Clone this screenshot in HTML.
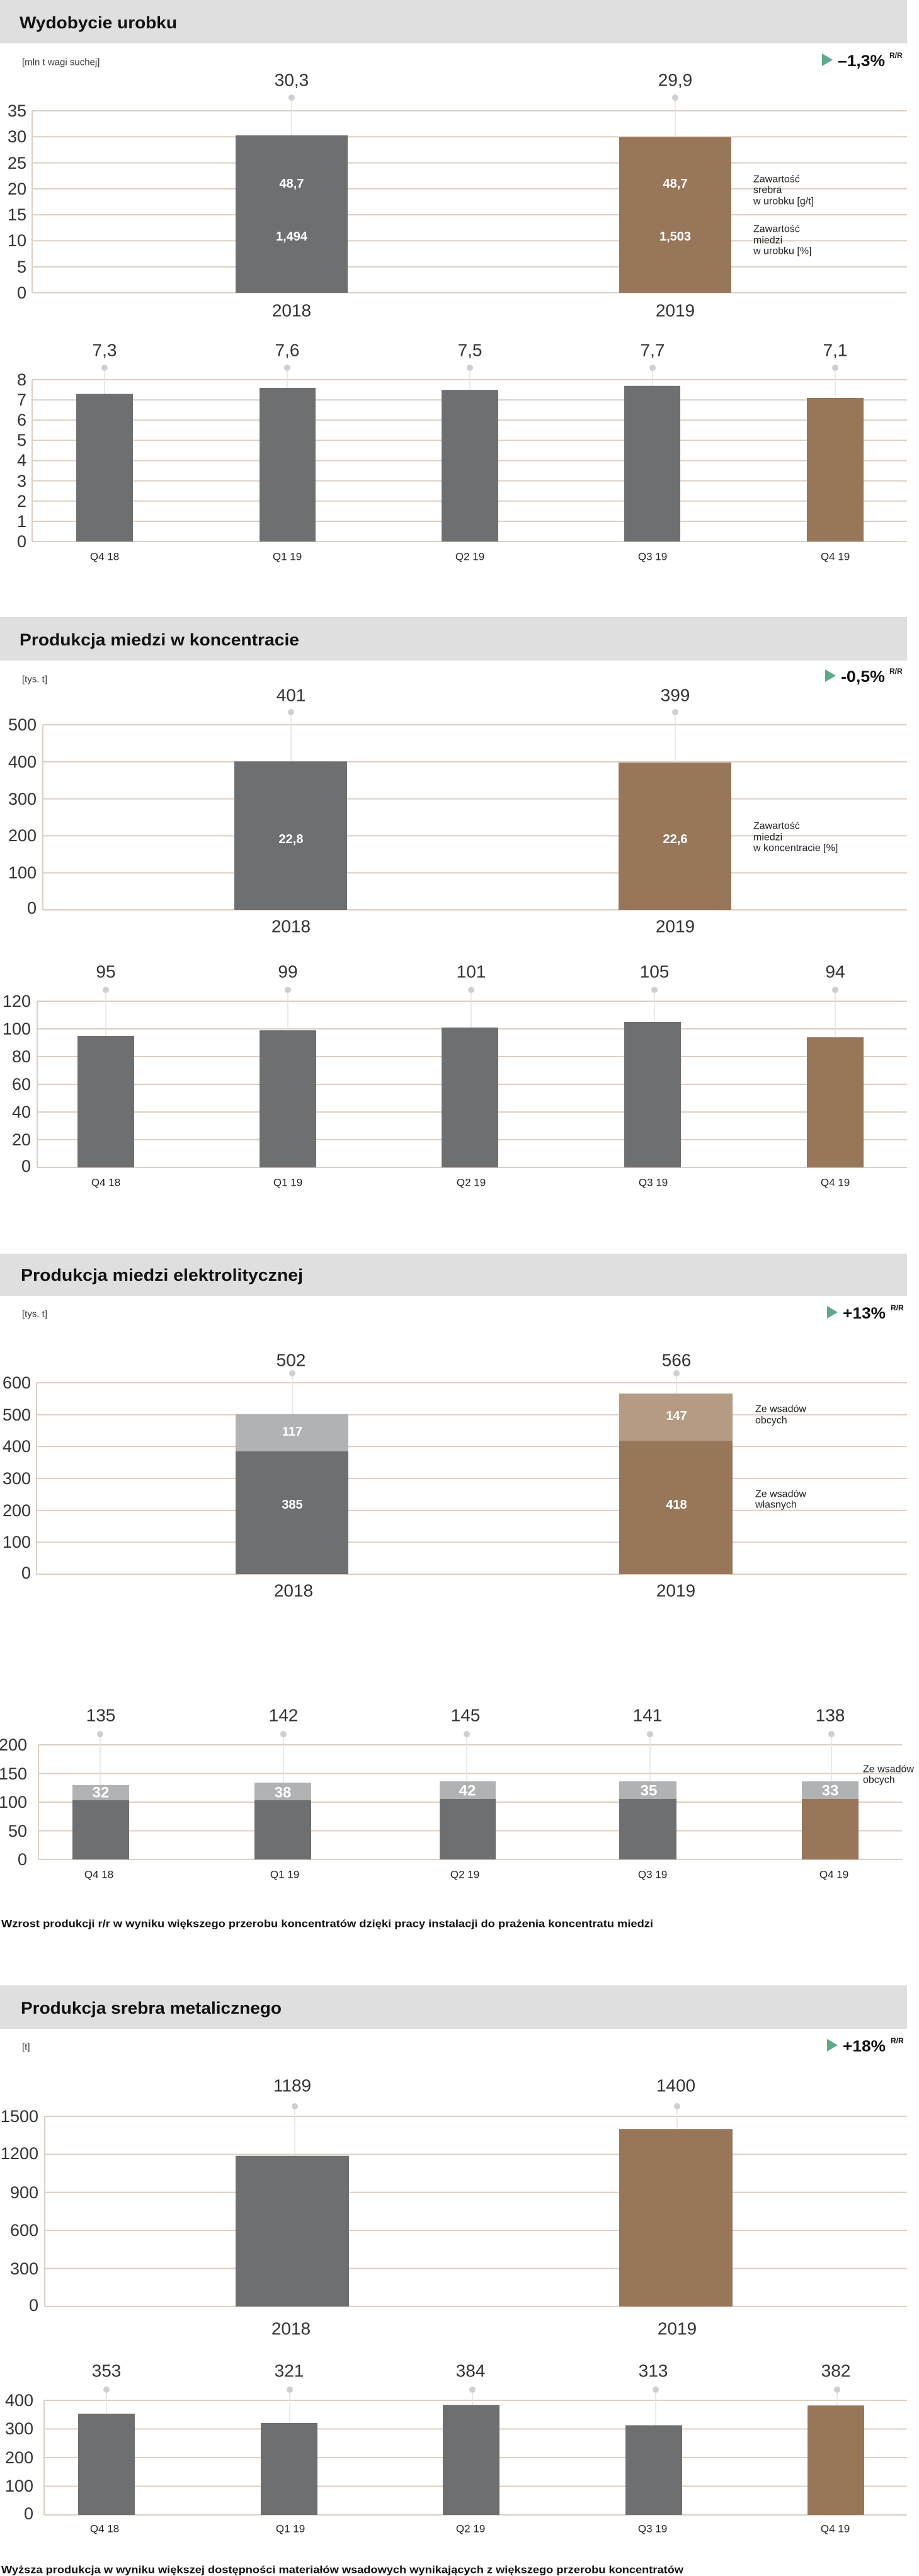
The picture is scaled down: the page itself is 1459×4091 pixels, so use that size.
<!DOCTYPE html>
<html><head><meta charset="utf-8"><style>
html,body{margin:0;padding:0;background:#fff;}
svg{display:block;}
text{font-family:"Liberation Sans Narrow","Liberation Sans",sans-serif;}
.t{font-weight:bold;font-size:27px;fill:#111;}
.u{font-size:15px;fill:#333;}
.ax{font-size:27px;fill:#333;text-anchor:end;}
.v{font-size:28px;fill:#333;text-anchor:middle;}
.q{font-size:17px;fill:#222;text-anchor:middle;}
.yr{font-size:28px;fill:#333;text-anchor:middle;}
.bl{font-size:20px;font-weight:bold;fill:#fff;text-anchor:middle;}
.sl{font-size:24px;font-weight:bold;fill:#fff;text-anchor:middle;}
.an{font-size:16px;fill:#222;}
.pc{font-size:25px;font-weight:bold;fill:#111;}
.rr{font-size:12px;font-weight:bold;fill:#111;}
.nt{font-size:17px;font-weight:bold;fill:#111;}
.g{stroke:#dccfc2;stroke-width:2;}
.c{stroke:#e2e2e2;stroke-width:1.5;}
.gr{fill:#6e6f71;}
.br{fill:#98765a;}
.dot{fill:#cfcfcf;}
</style></head><body>
<svg width="1459" height="4091" viewBox="0 0 1459 4091" xmlns="http://www.w3.org/2000/svg" dominant-baseline="central">

<!-- SECTION 1 -->
<rect x="0" y="0" width="1440" height="69" fill="#dedfde"/>
<text class="t" x="31" y="36" textLength="250" lengthAdjust="spacingAndGlyphs">Wydobycie urobku</text>
<text class="u" x="35" y="99">[mln t wagi suchej]</text>
<polygon points="1305,85 1322,95 1305,105" fill="#5fa98a"/>
<text class="pc" x="1330" y="97" textLength="75" lengthAdjust="spacingAndGlyphs">–1,3%</text>
<text class="rr" x="1412" y="88">R/R</text>

<g>
<line class="g" x1="51" y1="176" x2="51" y2="465"/>
<line class="g" x1="51" y1="176" x2="1440" y2="176"/>
<line class="g" x1="51" y1="217.3" x2="1440" y2="217.3"/>
<line class="g" x1="51" y1="258.6" x2="1440" y2="258.6"/>
<line class="g" x1="51" y1="299.9" x2="1440" y2="299.9"/>
<line class="g" x1="51" y1="341.1" x2="1440" y2="341.1"/>
<line class="g" x1="51" y1="382.4" x2="1440" y2="382.4"/>
<line class="g" x1="51" y1="423.7" x2="1440" y2="423.7"/>
<line class="g" x1="51" y1="465" x2="1440" y2="465"/>
<text class="ax" x="42" y="176">35</text>
<text class="ax" x="42" y="217">30</text>
<text class="ax" x="42" y="259">25</text>
<text class="ax" x="42" y="300">20</text>
<text class="ax" x="42" y="341">15</text>
<text class="ax" x="42" y="382">10</text>
<text class="ax" x="42" y="424">5</text>
<text class="ax" x="42" y="465">0</text>
<line class="c" x1="463" y1="155" x2="463" y2="215"/>
<line class="c" x1="1072" y1="155" x2="1072" y2="218"/>
<circle class="dot" cx="463" cy="155" r="5"/>
<circle class="dot" cx="1072" cy="155" r="5"/>
<rect class="gr" x="374" y="215" width="178" height="250"/>
<rect class="br" x="983" y="218" width="178" height="247"/>
<text class="v" x="463" y="127">30,3</text>
<text class="v" x="1072" y="127">29,9</text>
<text class="bl" x="463" y="292">48,7</text>
<text class="bl" x="463" y="376">1,494</text>
<text class="bl" x="1072" y="292">48,7</text>
<text class="bl" x="1072" y="376">1,503</text>
<text class="an" x="1196" y="285">Zawartość</text>
<text class="an" x="1196" y="302">srebra</text>
<text class="an" x="1196" y="320">w urobku [g/t]</text>
<text class="an" x="1196" y="364">Zawartość</text>
<text class="an" x="1196" y="382">miedzi</text>
<text class="an" x="1196" y="399">w urobku [%]</text>
<text class="yr" x="463" y="493">2018</text>
<text class="yr" x="1072" y="493">2019</text>
</g>

<g>
<line class="g" x1="51" y1="603" x2="51" y2="860"/>
<line class="g" x1="51" y1="603" x2="1440" y2="603"/>
<line class="g" x1="51" y1="635.1" x2="1440" y2="635.1"/>
<line class="g" x1="51" y1="667.3" x2="1440" y2="667.3"/>
<line class="g" x1="51" y1="699.4" x2="1440" y2="699.4"/>
<line class="g" x1="51" y1="731.5" x2="1440" y2="731.5"/>
<line class="g" x1="51" y1="763.6" x2="1440" y2="763.6"/>
<line class="g" x1="51" y1="795.8" x2="1440" y2="795.8"/>
<line class="g" x1="51" y1="827.9" x2="1440" y2="827.9"/>
<line class="g" x1="51" y1="860" x2="1440" y2="860"/>
<text class="ax" x="42" y="603">8</text>
<text class="ax" x="42" y="635">7</text>
<text class="ax" x="42" y="667">6</text>
<text class="ax" x="42" y="699">5</text>
<text class="ax" x="42" y="731">4</text>
<text class="ax" x="42" y="764">3</text>
<text class="ax" x="42" y="796">2</text>
<text class="ax" x="42" y="828">1</text>
<text class="ax" x="42" y="860">0</text>
<line class="c" x1="166" y1="584" x2="166" y2="626"/>
<line class="c" x1="456" y1="584" x2="456" y2="616"/>
<line class="c" x1="746" y1="584" x2="746" y2="619"/>
<line class="c" x1="1036" y1="584" x2="1036" y2="613"/>
<line class="c" x1="1326" y1="584" x2="1326" y2="632"/>
<circle class="dot" cx="166" cy="584" r="5"/>
<circle class="dot" cx="456" cy="584" r="5"/>
<circle class="dot" cx="746" cy="584" r="5"/>
<circle class="dot" cx="1036" cy="584" r="5"/>
<circle class="dot" cx="1326" cy="584" r="5"/>
<rect class="gr" x="121" y="625.6" width="90" height="234.4"/>
<rect class="gr" x="412" y="616" width="89" height="244"/>
<rect class="gr" x="701" y="619.2" width="90" height="240.8"/>
<rect class="gr" x="991" y="612.8" width="89" height="247.2"/>
<rect class="br" x="1281" y="632" width="90" height="228"/>
<text class="v" x="166" y="556">7,3</text>
<text class="v" x="456" y="556">7,6</text>
<text class="v" x="746" y="556">7,5</text>
<text class="v" x="1036" y="556">7,7</text>
<text class="v" x="1326" y="556">7,1</text>
<text class="q" x="166" y="884">Q4 18</text>
<text class="q" x="456" y="884">Q1 19</text>
<text class="q" x="746" y="884">Q2 19</text>
<text class="q" x="1036" y="884">Q3 19</text>
<text class="q" x="1326" y="884">Q4 19</text>
</g>

<!-- SECTION 2 -->
<rect x="0" y="980" width="1440" height="69" fill="#dedfde"/>
<text class="t" x="31" y="1016" textLength="444" lengthAdjust="spacingAndGlyphs">Produkcja miedzi w koncentracie</text>
<text class="u" x="35" y="1079">[tys. t]</text>
<polygon points="1310,1063 1327,1073 1310,1083" fill="#5fa98a"/>
<text class="pc" x="1335" y="1075" textLength="70" lengthAdjust="spacingAndGlyphs">-0,5%</text>
<text class="rr" x="1412" y="1066">R/R</text>

<g>
<line class="g" x1="68" y1="1151" x2="68" y2="1445"/>
<line class="g" x1="68" y1="1151" x2="1440" y2="1151"/>
<line class="g" x1="68" y1="1209.8" x2="1440" y2="1209.8"/>
<line class="g" x1="68" y1="1268.6" x2="1440" y2="1268.6"/>
<line class="g" x1="68" y1="1327.4" x2="1440" y2="1327.4"/>
<line class="g" x1="68" y1="1386.2" x2="1440" y2="1386.2"/>
<line class="g" x1="68" y1="1445" x2="1440" y2="1445"/>
<text class="ax" x="58" y="1151">500</text>
<text class="ax" x="58" y="1210">400</text>
<text class="ax" x="58" y="1269">300</text>
<text class="ax" x="58" y="1327">200</text>
<text class="ax" x="58" y="1386">100</text>
<text class="ax" x="58" y="1442">0</text>
<line class="c" x1="462" y1="1131" x2="462" y2="1209"/>
<line class="c" x1="1072" y1="1131" x2="1072" y2="1210"/>
<circle class="dot" cx="462" cy="1131" r="5"/>
<circle class="dot" cx="1072" cy="1131" r="5"/>
<rect class="gr" x="372" y="1209.2" width="179" height="235.8"/>
<rect class="br" x="982" y="1211" width="179" height="234"/>
<text class="v" x="462" y="1104">401</text>
<text class="v" x="1072" y="1104">399</text>
<text class="bl" x="462" y="1333">22,8</text>
<text class="bl" x="1072" y="1333">22,6</text>
<text class="an" x="1196" y="1312">Zawartość</text>
<text class="an" x="1196" y="1330">miedzi</text>
<text class="an" x="1196" y="1347">w koncentracie [%]</text>
<text class="yr" x="462" y="1471">2018</text>
<text class="yr" x="1072" y="1471">2019</text>
</g>

<g>
<line class="g" x1="59" y1="1590" x2="59" y2="1854"/>
<line class="g" x1="59" y1="1590" x2="1440" y2="1590"/>
<line class="g" x1="59" y1="1634" x2="1440" y2="1634"/>
<line class="g" x1="59" y1="1678" x2="1440" y2="1678"/>
<line class="g" x1="59" y1="1722" x2="1440" y2="1722"/>
<line class="g" x1="59" y1="1766" x2="1440" y2="1766"/>
<line class="g" x1="59" y1="1810" x2="1440" y2="1810"/>
<line class="g" x1="59" y1="1854" x2="1440" y2="1854"/>
<text class="ax" x="49" y="1590">120</text>
<text class="ax" x="49" y="1634">100</text>
<text class="ax" x="49" y="1678">80</text>
<text class="ax" x="49" y="1722">60</text>
<text class="ax" x="49" y="1766">40</text>
<text class="ax" x="49" y="1810">20</text>
<text class="ax" x="49" y="1852">0</text>
<line class="c" x1="168" y1="1572" x2="168" y2="1645"/>
<line class="c" x1="457" y1="1572" x2="457" y2="1636"/>
<line class="c" x1="748" y1="1572" x2="748" y2="1632"/>
<line class="c" x1="1039" y1="1572" x2="1039" y2="1623"/>
<line class="c" x1="1326" y1="1572" x2="1326" y2="1647"/>
<circle class="dot" cx="168" cy="1572" r="5"/>
<circle class="dot" cx="457" cy="1572" r="5"/>
<circle class="dot" cx="748" cy="1572" r="5"/>
<circle class="dot" cx="1039" cy="1572" r="5"/>
<circle class="dot" cx="1326" cy="1572" r="5"/>
<rect class="gr" x="123" y="1645" width="90" height="209"/>
<rect class="gr" x="412" y="1636.2" width="90" height="217.8"/>
<rect class="gr" x="701" y="1631.8" width="90" height="222.2"/>
<rect class="gr" x="991" y="1623" width="90" height="231"/>
<rect class="br" x="1281" y="1647.2" width="90" height="206.8"/>
<text class="v" x="168" y="1543">95</text>
<text class="v" x="457" y="1543">99</text>
<text class="v" x="748" y="1543">101</text>
<text class="v" x="1039" y="1543">105</text>
<text class="v" x="1326" y="1543">94</text>
<text class="q" x="168" y="1878">Q4 18</text>
<text class="q" x="457" y="1878">Q1 19</text>
<text class="q" x="748" y="1878">Q2 19</text>
<text class="q" x="1037" y="1878">Q3 19</text>
<text class="q" x="1326" y="1878">Q4 19</text>
</g>

<!-- SECTION 3 -->
<rect x="0" y="1991" width="1440" height="67" fill="#dedfde"/>
<text class="t" x="33" y="2025" textLength="448" lengthAdjust="spacingAndGlyphs">Produkcja miedzi elektrolitycznej</text>
<text class="u" x="35" y="2087">[tys. t]</text>
<polygon points="1313,2074 1330,2084 1313,2094" fill="#5fa98a"/>
<text class="pc" x="1338" y="2086" textLength="68" lengthAdjust="spacingAndGlyphs">+13%</text>
<text class="rr" x="1414" y="2077">R/R</text>

<g>
<line class="g" x1="58" y1="2196" x2="58" y2="2500"/>
<line class="g" x1="58" y1="2196" x2="1440" y2="2196"/>
<line class="g" x1="58" y1="2246.7" x2="1440" y2="2246.7"/>
<line class="g" x1="58" y1="2297.3" x2="1440" y2="2297.3"/>
<line class="g" x1="58" y1="2348" x2="1440" y2="2348"/>
<line class="g" x1="58" y1="2398.7" x2="1440" y2="2398.7"/>
<line class="g" x1="58" y1="2449.3" x2="1440" y2="2449.3"/>
<line class="g" x1="58" y1="2500" x2="1440" y2="2500"/>
<text class="ax" x="49" y="2196">600</text>
<text class="ax" x="49" y="2247">500</text>
<text class="ax" x="49" y="2297">400</text>
<text class="ax" x="49" y="2348">300</text>
<text class="ax" x="49" y="2399">200</text>
<text class="ax" x="49" y="2449">100</text>
<text class="ax" x="49" y="2498">0</text>
<line class="c" x1="464" y1="2181" x2="464" y2="2246"/>
<line class="c" x1="1074" y1="2181" x2="1074" y2="2214"/>
<circle class="dot" cx="464" cy="2181" r="5"/>
<circle class="dot" cx="1074" cy="2181" r="5"/>
<rect x="374" y="2245.6" width="179" height="59.3" fill="#b1b2b3"/>
<rect class="gr" x="374" y="2304.9" width="179" height="195.1"/>
<rect x="983" y="2213.2" width="180" height="75" fill="#b59b82"/>
<rect class="br" x="983" y="2288.2" width="180" height="211.8"/>
<text class="v" x="462" y="2160">502</text>
<text class="v" x="1074" y="2160">566</text>
<text class="bl" x="464" y="2274">117</text>
<text class="bl" x="464" y="2390">385</text>
<text class="bl" x="1074" y="2249">147</text>
<text class="bl" x="1074" y="2390">418</text>
<text class="an" x="1199" y="2238">Ze wsadów</text>
<text class="an" x="1199" y="2256">obcych</text>
<text class="an" x="1199" y="2373">Ze wsadów</text>
<text class="an" x="1199" y="2390">własnych</text>
<text class="yr" x="466" y="2526">2018</text>
<text class="yr" x="1073" y="2526">2019</text>
</g>

<g>
<line class="g" x1="61" y1="2771" x2="61" y2="2953"/>
<line class="g" x1="61" y1="2771" x2="1432" y2="2771"/>
<line class="g" x1="61" y1="2816.5" x2="1432" y2="2816.5"/>
<line class="g" x1="61" y1="2862" x2="1432" y2="2862"/>
<line class="g" x1="61" y1="2907.5" x2="1432" y2="2907.5"/>
<line class="g" x1="61" y1="2953" x2="1432" y2="2953"/>
<text class="ax" x="43" y="2771">200</text>
<text class="ax" x="43" y="2817">150</text>
<text class="ax" x="43" y="2862">100</text>
<text class="ax" x="43" y="2908">50</text>
<text class="ax" x="43" y="2953">0</text>
<line class="c" x1="159" y1="2754" x2="159" y2="2835"/>
<line class="c" x1="450" y1="2754" x2="450" y2="2831"/>
<line class="c" x1="741" y1="2754" x2="741" y2="2829"/>
<line class="c" x1="1032" y1="2754" x2="1032" y2="2829"/>
<line class="c" x1="1320" y1="2754" x2="1320" y2="2829"/>
<circle class="dot" cx="159" cy="2754" r="5"/>
<circle class="dot" cx="450" cy="2754" r="5"/>
<circle class="dot" cx="741" cy="2754" r="5"/>
<circle class="dot" cx="1032" cy="2754" r="5"/>
<circle class="dot" cx="1320" cy="2754" r="5"/>
<rect x="115" y="2835" width="90" height="24" fill="#b1b2b3"/>
<rect class="gr" x="115" y="2859" width="90" height="94"/>
<rect x="404" y="2831" width="90" height="28" fill="#b1b2b3"/>
<rect class="gr" x="404" y="2859" width="90" height="94"/>
<rect x="698" y="2829" width="89" height="28" fill="#b1b2b3"/>
<rect class="gr" x="698" y="2857" width="89" height="96"/>
<rect x="983" y="2829" width="91" height="28" fill="#b1b2b3"/>
<rect class="gr" x="983" y="2857" width="91" height="96"/>
<rect x="1273" y="2829" width="90" height="28" fill="#b1b2b3"/>
<rect class="br" x="1273" y="2857" width="90" height="96"/>
<text class="sl" x="160" y="2847">32</text>
<text class="sl" x="449" y="2847">38</text>
<text class="sl" x="742" y="2844">42</text>
<text class="sl" x="1030" y="2844">35</text>
<text class="sl" x="1318" y="2844">33</text>
<text class="v" x="160" y="2724">135</text>
<text class="v" x="450" y="2724">142</text>
<text class="v" x="739" y="2724">145</text>
<text class="v" x="1028" y="2724">141</text>
<text class="v" x="1318" y="2724">138</text>
<text class="an" x="1370" y="2810">Ze wsadów</text>
<text class="an" x="1370" y="2827">obcych</text>
<text class="q" x="157" y="2977">Q4 18</text>
<text class="q" x="452" y="2977">Q1 19</text>
<text class="q" x="738" y="2977">Q2 19</text>
<text class="q" x="1036" y="2977">Q3 19</text>
<text class="q" x="1324" y="2977">Q4 19</text>
</g>
<text class="nt" x="2" y="3055" textLength="1035" lengthAdjust="spacingAndGlyphs">Wzrost produkcji r/r w wyniku większego przerobu koncentratów dzięki pracy instalacji do prażenia koncentratu miedzi</text>

<!-- SECTION 4 -->
<rect x="0" y="3153" width="1440" height="69" fill="#dedfde"/>
<text class="t" x="33" y="3189" textLength="414" lengthAdjust="spacingAndGlyphs">Produkcja srebra metalicznego</text>
<text class="u" x="35" y="3251">[t]</text>
<polygon points="1313,3238 1330,3248 1313,3258" fill="#5fa98a"/>
<text class="pc" x="1338" y="3250" textLength="68" lengthAdjust="spacingAndGlyphs">+18%</text>
<text class="rr" x="1414" y="3241">R/R</text>

<g>
<line class="g" x1="71" y1="3361" x2="71" y2="3663"/>
<line class="g" x1="71" y1="3361" x2="1440" y2="3361"/>
<line class="g" x1="71" y1="3421.4" x2="1440" y2="3421.4"/>
<line class="g" x1="71" y1="3481.8" x2="1440" y2="3481.8"/>
<line class="g" x1="71" y1="3542.2" x2="1440" y2="3542.2"/>
<line class="g" x1="71" y1="3602.6" x2="1440" y2="3602.6"/>
<line class="g" x1="71" y1="3663" x2="1440" y2="3663"/>
<text class="ax" x="61" y="3361">1500</text>
<text class="ax" x="61" y="3420">1200</text>
<text class="ax" x="61" y="3482">900</text>
<text class="ax" x="61" y="3542">600</text>
<text class="ax" x="61" y="3603">300</text>
<text class="ax" x="61" y="3661">0</text>
<line class="c" x1="468" y1="3345" x2="468" y2="3424"/>
<line class="c" x1="1075" y1="3345" x2="1075" y2="3381"/>
<circle class="dot" cx="468" cy="3345" r="5"/>
<circle class="dot" cx="1075" cy="3345" r="5"/>
<rect class="gr" x="374" y="3423.7" width="180" height="239.3"/>
<rect class="br" x="983" y="3381.2" width="180" height="281.8"/>
<text class="v" x="464" y="3312">1189</text>
<text class="v" x="1073" y="3312">1400</text>
<text class="yr" x="462" y="3698">2018</text>
<text class="yr" x="1075" y="3698">2019</text>
</g>

<g>
<line class="g" x1="70" y1="3812" x2="70" y2="3994"/>
<line class="g" x1="70" y1="3812" x2="1440" y2="3812"/>
<line class="g" x1="70" y1="3857.5" x2="1440" y2="3857.5"/>
<line class="g" x1="70" y1="3903" x2="1440" y2="3903"/>
<line class="g" x1="70" y1="3948.5" x2="1440" y2="3948.5"/>
<line class="g" x1="70" y1="3994" x2="1440" y2="3994"/>
<text class="ax" x="53" y="3812">400</text>
<text class="ax" x="53" y="3857">300</text>
<text class="ax" x="53" y="3903">200</text>
<text class="ax" x="53" y="3948">100</text>
<text class="ax" x="53" y="3992">0</text>
<line class="c" x1="169" y1="3795" x2="169" y2="3833"/>
<line class="c" x1="460" y1="3795" x2="460" y2="3848"/>
<line class="c" x1="750" y1="3795" x2="750" y2="3819"/>
<line class="c" x1="1041" y1="3795" x2="1041" y2="3852"/>
<line class="c" x1="1329" y1="3795" x2="1329" y2="3820"/>
<circle class="dot" cx="169" cy="3795" r="5"/>
<circle class="dot" cx="460" cy="3795" r="5"/>
<circle class="dot" cx="750" cy="3795" r="5"/>
<circle class="dot" cx="1041" cy="3795" r="5"/>
<circle class="dot" cx="1329" cy="3795" r="5"/>
<rect class="gr" x="124" y="3833.4" width="90" height="160.6"/>
<rect class="gr" x="414" y="3848" width="90" height="146"/>
<rect class="gr" x="703" y="3819.3" width="90" height="174.7"/>
<rect class="gr" x="993" y="3851.6" width="90" height="142.4"/>
<rect class="br" x="1282" y="3820.2" width="90" height="173.8"/>
<text class="v" x="169" y="3765">353</text>
<text class="v" x="459" y="3765">321</text>
<text class="v" x="747" y="3765">384</text>
<text class="v" x="1037" y="3765">313</text>
<text class="v" x="1327" y="3765">382</text>
<text class="q" x="166" y="4016">Q4 18</text>
<text class="q" x="461" y="4016">Q1 19</text>
<text class="q" x="747" y="4016">Q2 19</text>
<text class="q" x="1036" y="4016">Q3 19</text>
<text class="q" x="1326" y="4016">Q4 19</text>
</g>
<text class="nt" x="2" y="4081" textLength="1083" lengthAdjust="spacingAndGlyphs">Wyższa produkcja w wyniku większej dostępności materiałów wsadowych wynikających z większego przerobu koncentratów</text>
</svg>
</body></html>
